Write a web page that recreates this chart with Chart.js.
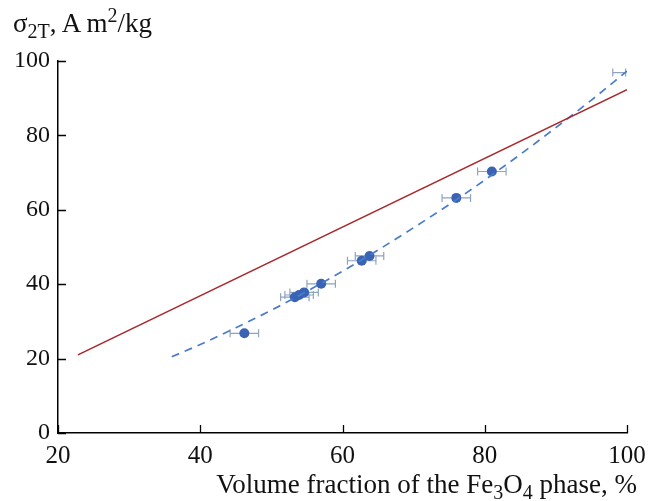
<!DOCTYPE html>
<html>
<head>
<meta charset="utf-8">
<script src="https://cdn.jsdelivr.net/npm/chart.js@4"></script>
<style>
  body { margin: 0; background: #fff; }
  #wrap { position: relative; width: 656px; height: 501px; }
  .ttl { position: absolute; font-family: "Liberation Serif", "DejaVu Serif", serif; font-size: 27px; color: #111; white-space: nowrap; line-height: 1; }
  .ttl sub, .ttl sup { font-size: 20px; line-height: 0; }
  #ytitle { left: 13px; top: 10px; }
  #xtitle { right: 19px; top: 471px; }
</style>
</head>
<body>
<div id="wrap">
  <canvas id="chart" width="656" height="501"></canvas>
  <div class="ttl" id="ytitle">σ<sub>2T</sub>, A m<sup>2</sup>/kg</div>
  <div class="ttl" id="xtitle">Volume fraction of the Fe<sub>3</sub>O<sub>4</sub> phase, %</div>
</div>
<script>
// measured points
const pointX = [46.2, 53.3, 53.9, 54.6, 57.0, 62.7, 63.8, 76.0, 81.0, 98.9];
const pointY = [26.8, 36.5, 37.1, 37.8, 40.1, 46.3, 47.6, 63.2, 70.3, 96.9];
const pointErrX = [2, 2, 2, 2, 2, 2, 2, 2, 2, 0.9];
const pointRadius = [5, 5, 5, 5, 5, 5, 5, 5, 5, 0];

// fitted curve (dashed)
const curveX = [36, 40, 45, 50, 55, 60, 65, 70, 75, 80, 85, 90, 95, 100];
const curveY = [20.5, 23.8, 28.3, 33.0, 38.1, 43.5, 49.2, 55.2, 61.4, 68.0, 74.9, 82.1, 89.5, 97.3];

// straight line
const lineX = [22.8, 100];
const lineY = [21.0, 92.3];

const xTicks = [20, 40, 60, 80, 100];
const yTicks = [0, 20, 40, 60, 80, 100];

const toXY = (xs, ys) => xs.map((x, i) => ({ x: x, y: ys[i] }));

const inwardTicks = {
    id: 'inwardTicks',
    afterDraw(chart) {
        const ctx = chart.ctx;
        const xs = chart.scales.x, ys = chart.scales.y;
        const a = chart.chartArea;
        ctx.save();
        ctx.strokeStyle = '#000';
        ctx.lineWidth = 1.3;
        ctx.beginPath();
        xTicks.forEach(v => {
            const px = Math.round(xs.getPixelForValue(v)) + 0.5;
            ctx.moveTo(px, a.bottom);
            ctx.lineTo(px, a.bottom - 8);
        });
        yTicks.forEach(v => {
            const py = Math.round(ys.getPixelForValue(v)) + 0.5;
            ctx.moveTo(a.left, py);
            ctx.lineTo(a.left + 8, py);
        });
        ctx.stroke();
        ctx.restore();
    }
};

const errorBars = {
    id: 'errorBars',
    beforeDatasetsDraw(chart) {
        const ctx = chart.ctx;
        const xs = chart.scales.x, ys = chart.scales.y;
        ctx.save();
        ctx.strokeStyle = '#8ea4bf';
        ctx.lineWidth = 1.2;
        ctx.beginPath();
        pointX.forEach((x, i) => {
            const py = ys.getPixelForValue(pointY[i]);
            const x1 = xs.getPixelForValue(x - pointErrX[i]);
            const x2 = xs.getPixelForValue(x + pointErrX[i]);
            ctx.moveTo(x1, py); ctx.lineTo(x2, py);
            ctx.moveTo(x1, py - 4); ctx.lineTo(x1, py + 4);
            ctx.moveTo(x2, py - 4); ctx.lineTo(x2, py + 4);
        });
        ctx.stroke();
        ctx.restore();
    }
};

new Chart(document.getElementById('chart'), {
    type: 'scatter',
    data: {
        datasets: [
            {
                data: toXY(lineX, lineY),
                showLine: true,
                borderColor: '#a8282c',
                borderWidth: 1.6,
                pointRadius: 0
            },
            {
                data: toXY(curveX, curveY),
                showLine: true,
                borderColor: '#4a7cca',
                borderWidth: 1.7,
                borderDash: [8, 6],
                cubicInterpolationMode: 'monotone',
                pointRadius: 0
            },
            {
                data: toXY(pointX, pointY),
                backgroundColor: '#3a63b6',
                borderColor: '#3a63b6',
                pointRadius: pointRadius,
                pointBorderWidth: 0
            }
        ]
    },
    options: {
        responsive: false,
        animation: false,
        layout: { padding: { top: 61, right: 29, left: 0, bottom: 0 } },
        plugins: { legend: { display: false }, tooltip: { enabled: false } },
        scales: {
            x: {
                type: 'linear',
                min: 20, max: 100,
                afterBuildTicks: s => { s.ticks = xTicks.map(v => ({ value: v })); },
                afterFit: s => { s.height = 68; },
                grid: { display: false, drawTicks: false },
                border: { display: true, color: '#000', width: 1.5 },
                ticks: {
                    padding: 8,
                    color: '#111',
                    font: { family: 'Liberation Serif', size: 25 }
                }
            },
            y: {
                type: 'linear',
                min: 0, max: 100,
                afterBuildTicks: s => { s.ticks = yTicks.map(v => ({ value: v })); },
                afterFit: s => { s.width = 58; },
                grid: { display: false, drawTicks: false },
                border: { display: true, color: '#000', width: 1.5 },
                ticks: {
                    padding: 8,
                    color: '#111',
                    font: { family: 'Liberation Serif', size: 24 }
                }
            }
        }
    },
    plugins: [errorBars, inwardTicks]
});
</script>
</body>
</html>
